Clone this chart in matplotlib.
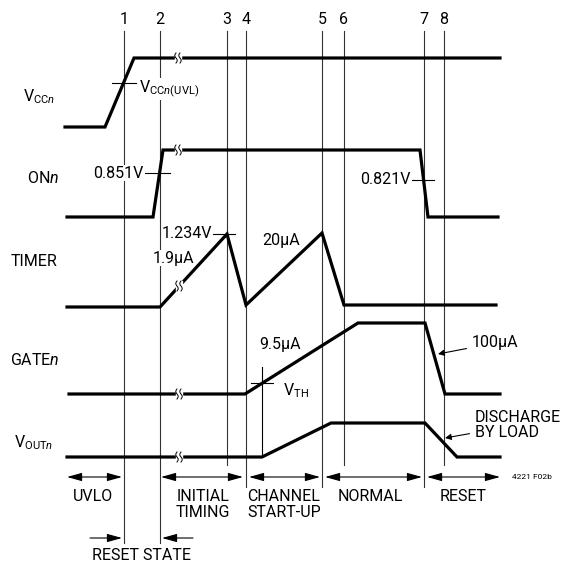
import numpy as np
import matplotlib.pyplot as plt

plt.rcParams['font.family'] = ['Roboto', 'DejaVu Sans']
plt.rcParams['mathtext.fontset'] = 'custom'
plt.rcParams['mathtext.rm'] = 'Roboto'
plt.rcParams['mathtext.it'] = 'Roboto:italic'

# event markers (x in diagram units, same as pixels)
events = ['1', '2', '3', '4', '5', '6', '7', '8']
event_x = [124, 160, 227, 246, 322, 344, 424, 444]
event_bottom = [543, 543, 465, 487, 487, 465, 487, 465]

# waveforms (x, y) in diagram units, y grows downwards
vcc_x = [65, 105, 134, 500]
vcc_y = [127, 127, 58, 58]
on_x = [67, 153, 163, 420, 428, 498]
on_y = [217, 217, 150, 150, 217, 217]
timer_x = [67, 160, 227, 246, 322, 344, 496]
timer_y = [307, 307, 234, 305, 233, 305, 305]
gate_x = [69, 245, 358, 425, 445, 500]
gate_y = [394, 394, 323, 323, 394, 394]
vout_x = [67, 262, 331, 425, 457, 500]
vout_y = [457, 457, 423, 423, 457, 457]

signal_names = [r'V$_{\mathrm{CC}\mathit{n}}$', r'ON$\mathit{n}$', 'TIMER',
                r'GATE$\mathit{n}$', r'V$_{\mathrm{OUT}\mathit{n}}$']
signal_name_x = [23, 27, 11, 10, 14]
signal_name_y = [97, 178, 262, 360, 443]

# time-break marks
breaks_x = [178, 178, 179, 179, 179]
breaks_y = [58, 150, 286, 394, 457]

# phases
phases = ['UVLO', 'INITIAL\nTIMING', 'CHANNEL\nSTART-UP', 'NORMAL', 'RESET']
phase_from = [67, 161, 249, 325, 427]
phase_to = [122, 243, 320, 422, 500]
phase_center = [93, 203, 284, 370, 463]

fig = plt.figure(figsize=(5.63, 5.65), dpi=100)
ax = fig.add_axes([0, 0, 1, 1])
ax.set_xlim(0, 563)
ax.set_ylim(565, 0)
ax.axis('off')

fs = 11.5
lw_sig = 2.3
lw_thin = 0.8
white = dict(fc='white', ec='none', pad=0.5)

for name, x, yb in zip(events, event_x, event_bottom):
    ax.plot([x, x], [31, yb], c='#333333', lw=lw_thin, zorder=1)
    ax.text(x, 20, name, ha='center', va='center', fontsize=fs)

for xs, ys in [(vcc_x, vcc_y), (on_x, on_y), (timer_x, timer_y),
               (gate_x, gate_y), (vout_x, vout_y)]:
    ax.plot(xs, ys, c='black', lw=lw_sig, solid_joinstyle='miter', zorder=3)

for name, x, y in zip(signal_names, signal_name_x, signal_name_y):
    ax.text(x, y, name, ha='left', va='center', fontsize=fs)

# break marks: white gap with two squiggles
t = np.linspace(-1, 1, 20)
for bx, by in zip(breaks_x, breaks_y):
    ax.fill_between([bx - 3, bx + 3], by - 5, by + 5, color='white', zorder=4)
    for dx in (-2, 2):
        ax.plot(bx + dx + 1.2 * np.sin(t * np.pi), by + 5 * t, c='black', lw=0.7, zorder=5)

# threshold ticks and labels
ax.plot([112, 136], [83, 83], c='black', lw=lw_thin, zorder=4)
ax.text(139, 89, r'V$_{\mathrm{CC}\mathit{n}\mathrm{(UVL)}}$', ha='left', va='center',
        fontsize=fs, bbox=white, zorder=4)
ax.plot([145, 170], [173, 173], c='black', lw=lw_thin, zorder=4)
ax.text(144, 173, '0.851V', ha='right', va='center', fontsize=fs, bbox=white, zorder=4)
ax.plot([412, 434], [180, 180], c='black', lw=lw_thin, zorder=4)
ax.text(411, 180, '0.821V', ha='right', va='center', fontsize=fs, bbox=white, zorder=4)
ax.plot([213, 235], [234, 234], c='black', lw=lw_thin, zorder=4)
ax.text(212, 234, '1.234V', ha='right', va='center', fontsize=fs, zorder=4)
ax.text(173, 258, '1.9\u00b5A', ha='center', va='center', fontsize=fs, bbox=white, zorder=4)
ax.text(281, 240, '20\u00b5A', ha='center', va='center', fontsize=fs)
ax.text(280, 345, '9.5\u00b5A', ha='center', va='center', fontsize=fs)
ax.plot([251, 273], [383, 383], c='black', lw=lw_thin, zorder=4)
ax.plot([262, 262], [367, 457], c='black', lw=lw_thin, zorder=4)
ax.text(283, 391, r'V$_{\mathrm{TH}}$', ha='left', va='center', fontsize=fs)

arrow_kw = dict(arrowstyle='-|>', lw=0.8, color='black', mutation_scale=9, shrinkA=2, shrinkB=0)
ax.annotate('100\u00b5A', xy=(438, 354), xytext=(472, 343), fontsize=fs, ha='left',
            va='center', arrowprops=arrow_kw)
ax.annotate('DISCHARGE\nBY LOAD', xy=(445, 438), xytext=(475, 425), fontsize=fs, ha='left',
            va='center', linespacing=0.95, arrowprops=arrow_kw)

# phase arrows
span_kw = dict(arrowstyle='<|-|>,head_length=0.9,head_width=0.25', lw=0.8,
               color='black', shrinkA=0, shrinkB=0)
for name, x0, x1, xc in zip(phases, phase_from, phase_to, phase_center):
    ax.annotate('', xy=(x0, 477), xytext=(x1, 477), arrowprops=span_kw)
    ax.text(xc, 489, name, ha='center', va='top', fontsize=fs, linespacing=1.05)

one_kw = dict(arrowstyle='-|>,head_length=0.9,head_width=0.25', lw=0.8,
              color='black', shrinkA=0, shrinkB=0)
ax.annotate('', xy=(122, 538), xytext=(90, 538), arrowprops=one_kw)
ax.annotate('', xy=(162, 538), xytext=(193, 538), arrowprops=one_kw)
ax.text(141, 556, 'RESET STATE', ha='center', va='center', fontsize=fs)
ax.text(512, 477, '4221 F02b', ha='left', va='center', fontsize=6)

fig.savefig('out.png', dpi=100)
